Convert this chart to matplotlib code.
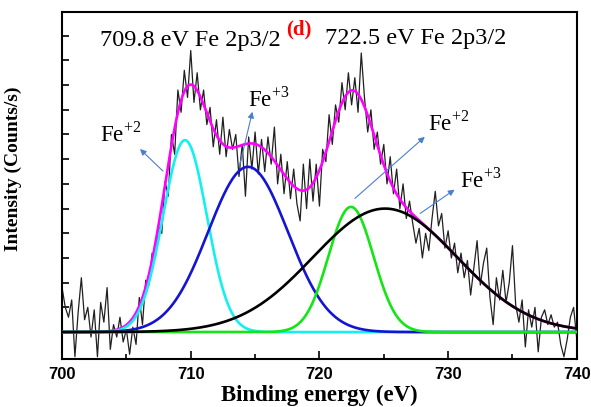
import numpy as np
import matplotlib
matplotlib.use("Agg")
import matplotlib.pyplot as plt

plt.rcParams['font.family'] = ['Liberation Serif', 'DejaVu Serif']
plt.rcParams['mathtext.fontset'] = 'custom'
plt.rcParams['mathtext.rm'] = 'Liberation Serif'

# measured spectrum, 0.25 eV steps from 700 to 740 eV
energy = np.arange(700, 740.01, 0.25)
counts = [
    1.8, 1.0, 0.6, 1.3, -1.0, 0.8, 2.2, 0.5, 1.0, -0.2, 0.9, -1.0,
    1.2, 0.4, 1.8, -0.7, 0.3, -0.2, 0.6, -0.4, 0.1, -0.9, 0.2, -0.5,
    1.4, 0.3, 2.1, 1.9, 3.2, 3.0, 4.3, 4.0, 6.1, 5.5, 8.0, 7.2,
    9.8, 8.9, 10.6, 9.5, 11.4, 9.3, 10.5, 9.0, 9.8, 8.4, 9.1, 7.5,
    8.6, 7.2, 8.7, 7.1, 8.2, 7.4, 8.0, 6.3, 7.6, 5.5, 7.9, 6.6,
    8.1, 6.4, 7.8, 6.5, 7.9, 6.8, 8.3, 6.0, 7.2, 5.6, 6.9, 5.4,
    6.6, 5.2, 4.5, 6.8, 5.0, 7.0, 5.3, 6.8, 5.1, 7.4, 6.9, 8.8,
    7.6, 9.2, 8.5, 10.1, 9.0, 10.5, 9.2, 10.3, 8.9, 11.3, 9.5, 8.1,
    9.0, 7.4, 8.1, 6.8, 7.6, 6.0, 7.1, 5.6, 6.6, 5.0, 6.0, 4.6,
    5.3, 4.4, 3.6, 4.2, 3.0, 4.0, 3.3, 4.6, 5.7, 4.3, 4.8, 3.4,
    4.1, 3.0, 3.6, 2.4, 3.2, 2.2, 2.9, 1.5, 2.6, 3.7, 1.9, 2.8,
    3.4, 1.4, 0.3, 2.2, 1.3, 2.5, 1.2, 2.0, 3.5, 1.1, 0.4, 1.3,
    -0.6, 0.9, 0.2, 1.0, -0.8, 0.6, 0.9, 0.3, 0.7, 0.2, 0.4, -0.5,
    -1.0, -0.3, 0.6, 1.0, -0.3,
]

# fitted peaks: Fe2+ (2p3/2), Fe3+ (2p3/2), Fe2+ (2p1/2), Fe3+ (2p1/2)
peak_centers = [709.55, 714.45, 722.45, 725.1]
peak_heights = [7.77, 6.69, 5.07, 5.0]
peak_sigmas = [1.7, 3.1, 1.75, 5.6]
peak_colors = ['#14f0f0', '#1414d2', '#14e614', 'black']

x_ticks = [700, 710, 720, 730, 740]

fit_x = np.linspace(700, 740, 800)
components = []
for c, h, s in zip(peak_centers, peak_heights, peak_sigmas):
    components.append(h * np.exp(-(fit_x - c) ** 2 / (2 * s ** 2)))
envelope = np.sum(components, axis=0)

fig = plt.figure(figsize=(5.91, 4.07), dpi=100)
ax = fig.add_axes([0.105, 0.118, 0.871, 0.8525])

ax.plot(energy, counts, color='#202020', lw=0.9, zorder=2)
ax.plot(fit_x, envelope, color='#ff00ff', lw=1.9, zorder=3)
for comp, col in zip(components, peak_colors):
    ax.plot(fit_x, comp, color=col, lw=1.9, zorder=4)

ax.set_xlim(700, 740)
ax.set_ylim(-1.09, 12.96)
ax.set_xticks(x_ticks)
ax.set_xticks(np.arange(705, 740, 10), minor=True)
ax.set_yticks(np.arange(0, 13, 1))
ax.set_yticklabels([])
ax.tick_params(axis='x', direction='in', length=6, width=1.2, pad=6)
ax.tick_params(axis='x', which='minor', direction='in', length=3.5, width=1.2)
ax.tick_params(axis='y', direction='in', length=5, width=1.2)
for lab in ax.get_xticklabels():
    lab.set_family('Liberation Sans')
    lab.set_fontweight('bold')
    lab.set_fontsize(12)
for sp in ax.spines.values():
    sp.set_linewidth(1.5)

ax.set_xlabel('Binding energy (eV)', fontsize=16.5, fontweight='bold', labelpad=2)
ax.set_ylabel('Intensity (Counts/s)', fontsize=14, fontweight='bold')
ax.yaxis.set_label_coords(-0.078, 0.548)

# peak position titles
ax.text(702.95, 11.82, '709.8 eV Fe 2p3/2', fontsize=17.5, ha='left', va='center')
ax.text(717.45, 12.25, '(d)', fontsize=15, color='red', fontweight='bold',
        ha='left', va='center')
ax.text(720.43, 11.9, '722.5 eV Fe 2p3/2', fontsize=17.5, ha='left', va='center')

# state labels with arrows
labels = [r'Fe$^{+2}$', r'Fe$^{+3}$', r'Fe$^{+2}$', r'Fe$^{+3}$']
label_pos = [(702.95, 7.70), (714.45, 9.15), (728.45, 8.15), (730.91, 5.86)]
arrow_heads = [(705.9, 7.49), (714.84, 9.03), (728.35, 7.98), (730.68, 5.83)]
arrow_tails = [(708.0, 6.44), (713.75, 6.64), (722.6, 5.34), (727.65, 4.74)]
for lab, pos, head, tail in zip(labels, label_pos, arrow_heads, arrow_tails):
    ax.text(pos[0], pos[1], lab, fontsize=16.5, ha='left', va='baseline')
    ax.annotate('', xy=head, xytext=tail,
                arrowprops=dict(arrowstyle='-|>', color='#4a7fd0', lw=0.8,
                                mutation_scale=9))

fig.savefig('out.png', dpi=100)
